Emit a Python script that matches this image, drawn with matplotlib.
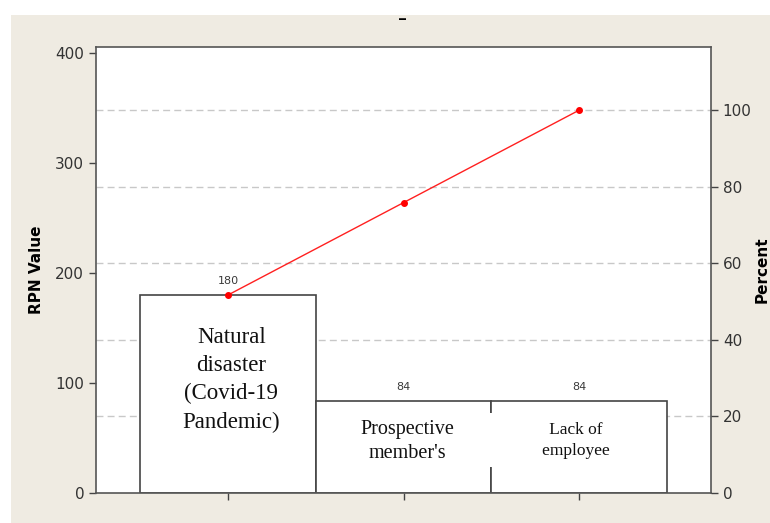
import numpy as np
import matplotlib.pyplot as plt
from matplotlib.patches import Rectangle

# Dati del diagramma di Pareto (RPN)
pad = " " * 11
categories = ["Natural\ndisaster\n(Covid-19\nPandemic)", "Prospective\nmember's",
              pad + "Lack of" + pad + "\n" + pad + "employee" + pad]
rpn_values = [180, 84, 84]
grid_percents = [20, 40, 60, 80, 100]
left_ticks = [0, 100, 200, 300, 400]
right_ticks = [0, 20, 40, 60, 80, 100]

total = sum(rpn_values)
cum_percent = np.cumsum(rpn_values) / total * 100
x = np.arange(len(rpn_values))

bg = "#efebe2"
fig = plt.figure(figsize=(7.7, 5.23), dpi=100, facecolor="white")
# sfondo beige (lascia una banda bianca in alto e a sinistra)
fig.patches.append(Rectangle((11 / 770, 0), 1, 1 - 15 / 523, transform=fig.transFigure,
                             facecolor=bg, edgecolor="none", zorder=-10))

ax = fig.add_axes([96 / 770, 30 / 523, 615 / 770, 446 / 523])
ax.set_facecolor("white")
ymax = 405.5
ax.set_ylim(0, ymax)
ax.set_xlim(-0.752, 2.752)

# griglia tratteggiata alle posizioni delle percentuali
for p in grid_percents:
    ax.axhline(p / 100 * total, color="#c8c8c8", linestyle=(0, (5, 3)), linewidth=1, zorder=0)

ax.bar(x, rpn_values, width=1.0, color="white", edgecolor="#444444", linewidth=1.2, zorder=2)

for xi, v in zip(x, rpn_values):
    ax.text(xi, v + 8, str(v), ha="center", va="bottom", fontsize=8, color="#3a3a3a", zorder=5)

# etichette dentro le barre
label_y = [103, 47, 48]
label_dx = [0.02, 0.02, -0.02]
sizes = [16.5, 14.5, 12.5]
spacing = [1.45, 1.35, 1.4]
for i, lab in enumerate(categories):
    ax.text(x[i] + label_dx[i], label_y[i], lab, ha="center", va="center",
            fontsize=sizes[i], family="Liberation Serif", linespacing=spacing[i],
            color="#111111", zorder=6,
            bbox=dict(facecolor="white", edgecolor="none", pad=6) if i == 2 else None)

ax.set_xticks(x)
ax.set_xticklabels([])
ax.set_yticks(left_ticks)
ax.tick_params(axis="both", direction="out", length=5, width=1, color="#444444",
               labelsize=11, labelcolor="#333333")
ax.set_ylabel("RPN Value", fontsize=11, fontweight="bold", labelpad=8)
for s in ax.spines.values():
    s.set_color("#555555")
    s.set_linewidth(1.2)

ax2 = ax.twinx()
ax2.set_ylim(0, ymax / total * 100)
ax2.set_yticks(right_ticks)
ax2.tick_params(axis="y", direction="out", length=5, width=1, color="#444444",
                labelsize=11, labelcolor="#333333")
ax2.plot(x, cum_percent, color="#ff2020", linewidth=1, marker="o", markersize=4,
         markerfacecolor="#ff0000", markeredgecolor="#ff0000", zorder=5)
ax2.set_ylabel("Percent", fontsize=11, fontweight="bold", labelpad=2)
for s in ax2.spines.values():
    s.set_visible(False)

fig.text(0.523, 0.975, "_", ha="center", va="center", fontsize=10, fontweight="bold")

fig.savefig("out.png", dpi=100)
